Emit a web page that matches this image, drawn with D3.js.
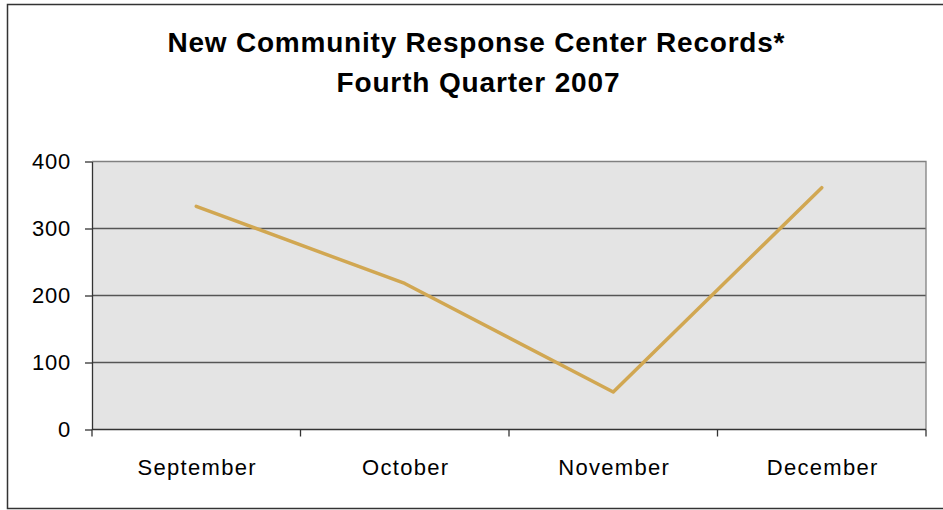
<!DOCTYPE html>
<html>
<head>
<meta charset="utf-8">
<script src="https://cdn.jsdelivr.net/npm/d3@7"></script>
<style>
  html, body { margin: 0; padding: 0; background: #fff; }
  svg { display: block; font-family: "Liberation Sans", Arial, sans-serif; }
</style>
</head>
<body>
<svg id="chart" width="943" height="510"></svg>
<script>
// Monthly record counts, fourth quarter 2007
const months = ["September", "October", "November", "December"];
const records = [333, 218, 56, 361];
const yTicks = [0, 100, 200, 300, 400];
const titleLines = ["New Community Response Center Records*", "Fourth Quarter 2007"];

const svg = d3.select("#chart");
const W = 943, H = 510;
const plot = { left: 92, right: 926, top: 161.5, bottom: 429.5 };

// outer frame
svg.append("rect")
  .attr("x", 7.5).attr("y", 4.5)
  .attr("width", W + 10).attr("height", 504)
  .attr("fill", "#fff").attr("stroke", "#333").attr("stroke-width", 1.5);

// title
const title = svg.append("g").attr("font-weight", "bold").attr("fill", "#000")
  .attr("text-anchor", "middle").attr("font-size", 28);
title.append("text").attr("x", 476).attr("y", 52)
  .attr("textLength", 617).attr("lengthAdjust", "spacing").text(titleLines[0]);
title.append("text").attr("x", 478).attr("y", 92)
  .attr("textLength", 283).attr("lengthAdjust", "spacing").text(titleLines[1]);

const x = d3.scaleBand().domain(months).range([plot.left, plot.right]).padding(0);
const y = d3.scaleLinear().domain([0, 400]).range([plot.bottom, plot.top]);

// plot area background
svg.append("rect")
  .attr("x", plot.left).attr("y", plot.top)
  .attr("width", plot.right - plot.left).attr("height", plot.bottom - plot.top)
  .attr("fill", "#e4e4e4");

// horizontal gridlines
svg.append("g").selectAll("line")
  .data(yTicks.filter(d => d > 0 && d < 400))
  .join("line")
  .attr("x1", plot.left).attr("x2", plot.right)
  .attr("y1", d => y(d)).attr("y2", d => y(d))
  .attr("stroke", "#555").attr("stroke-width", 1.3);

// top and right borders of the plot area
svg.append("path")
  .attr("d", `M${plot.left},${plot.top}H${plot.right}V${plot.bottom}`)
  .attr("fill", "none").attr("stroke", "#808080").attr("stroke-width", 1.3);

// y axis
const yAxis = svg.append("g")
  .attr("transform", `translate(${plot.left},0)`)
  .call(d3.axisLeft(y).tickValues(yTicks).tickSize(7).tickPadding(14).tickSizeOuter(0));
yAxis.select(".domain").attr("stroke", "#333").attr("stroke-width", 1.3);
yAxis.selectAll(".tick line").attr("stroke", "#333").attr("stroke-width", 1.3);
yAxis.selectAll(".tick text")
  .attr("font-size", 22).attr("fill", "#000")
  .attr("font-family", "'Liberation Sans', Arial, sans-serif")
  .attr("letter-spacing", 0.8);

// x axis with ticks at category boundaries
const xAxis = svg.append("g").attr("transform", `translate(0,${plot.bottom})`);
xAxis.append("line")
  .attr("x1", plot.left).attr("x2", plot.right)
  .attr("stroke", "#333").attr("stroke-width", 1.3);
const bounds = months.map(m => x(m)).concat([x(months[months.length - 1]) + x.bandwidth()]);
xAxis.selectAll("line.tick").data(bounds).join("line").attr("class", "tick")
  .attr("x1", d => d).attr("x2", d => d).attr("y1", 0).attr("y2", 7)
  .attr("stroke", "#333").attr("stroke-width", 1.3);
xAxis.selectAll("text").data(months).join("text")
  .attr("x", d => x(d) + x.bandwidth() / 2 + 1)
  .attr("y", 45)
  .attr("text-anchor", "middle")
  .attr("font-size", 22).attr("letter-spacing", 1.3).attr("fill", "#000")
  .text(d => d);

// record line
const line = d3.line()
  .x((d, i) => x(months[i]) + x.bandwidth() / 2)
  .y(d => y(d));
svg.append("path")
  .datum(records)
  .attr("d", line)
  .attr("fill", "none")
  .attr("stroke", "#d1a752")
  .attr("stroke-width", 3.5)
  .attr("stroke-linecap", "round")
  .attr("stroke-linejoin", "round");
</script>
</body>
</html>
